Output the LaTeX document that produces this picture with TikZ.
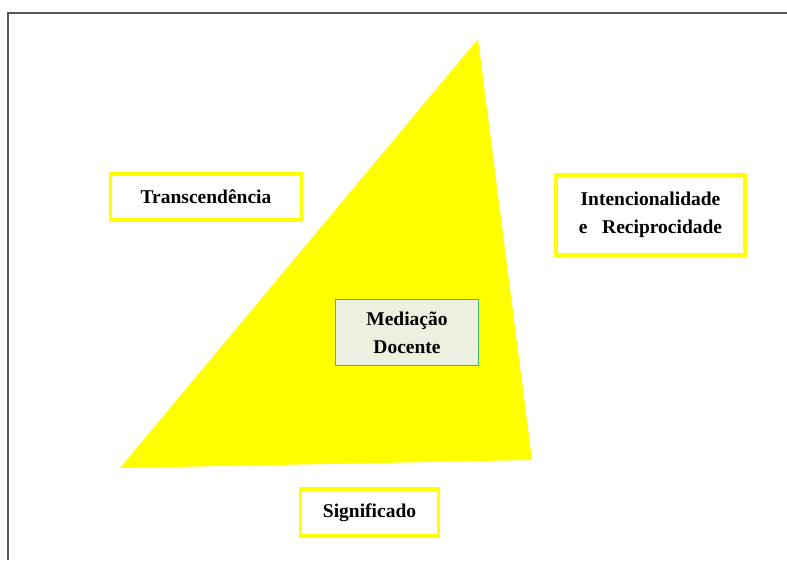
\documentclass[tikz,border=0pt]{standalone}
\usepackage{fontspec}
\setmainfont{Liberation Serif}
\usetikzlibrary{positioning}
\definecolor{triyellow}{HTML}{FFFF00}
\definecolor{docfill}{HTML}{EBF1DE}
\definecolor{docline}{HTML}{3CB878}

\begin{document}
\begin{tikzpicture}[x=1pt, y=-1pt,
    conceito/.style={rectangle, draw=triyellow, line width=3.5pt, fill=white, inner sep=0pt, align=center, font=\fontsize{19.5}{28}\selectfont\bfseries}]
    \useasboundingbox (0,0) rectangle (787,560);
    \draw [black!65, line width=1.5pt] (8,560) -- (8,13) -- (787,13);
    \fill [triyellow] (478,39) coordinate (apex) -- (120,468) coordinate (baseleft) -- (532,460) coordinate (baseright) -- cycle;

    \node [conceito, minimum width=191pt, minimum height=46pt] (transc) at (206,197) {Transcend\^encia};
    \node [conceito, minimum width=189pt, minimum height=80pt] (intenc) at (650.5,215) {Intencionalidade\\e\ \ \ Reciprocidade};
    \node [conceito, minimum width=138pt, minimum height=47pt] (signif) at (369.5,512.5) {Significado};
    \node [conceito, draw=docline, fill=docfill, line width=1.2pt, minimum width=143pt, minimum height=66pt] (mediacao) at (407,332.5) {Media\c{c}\~ao\\Docente};
\end{tikzpicture}
\end{document}
